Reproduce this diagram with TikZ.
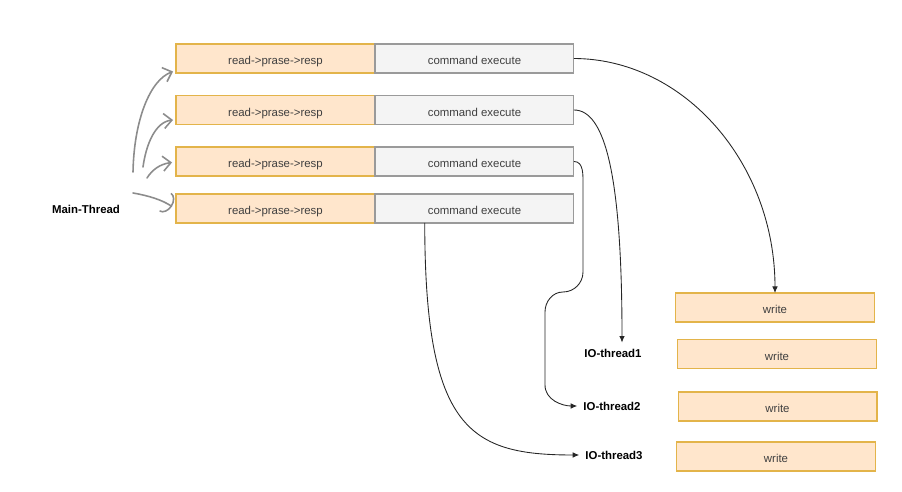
\documentclass[tikz,border=0pt]{standalone}
\usepackage{fontspec}
\setmainfont{Liberation Sans}
\usetikzlibrary{arrows.meta, positioning, calc}
\definecolor{rpfill}{HTML}{FFE6CC}
\definecolor{rpline}{HTML}{E3B44A}
\definecolor{cefill}{HTML}{F4F4F4}
\definecolor{celine}{HTML}{9A9A9A}

\begin{document}
\begin{tikzpicture}[
        x=0.02cm, y=-0.02cm,
        font=\fontsize{6.5}{8}\selectfont,
        box/.style={
          draw,
          line width=0.6pt,
          minimum width=3.98cm,
          minimum height=0.58cm,
          inner sep=0pt,
          outer sep=0pt,
          text height=1.4ex,
          text depth=0.1ex,
          text=black!75
        },
        rp/.style={box, fill=rpfill, draw=rpline},
        ce/.style={box, fill=cefill, draw=celine},
        lbl/.style={font=\fontsize{6.5}{8}\selectfont\bfseries},
        flow/.style={-{Latex[length=1.3mm, width=1.1mm]}, line width=0.5pt, draw=black!85},
        hand/.style={-{Straight Barb[length=1.6mm, width=3mm]}, line width=0.9pt, draw=black!45, line cap=round}
      ]
      \useasboundingbox (0,0) rectangle (902,492);

      \node[rp] (rp1) at (275.5,58.5) {read->prase->resp};
      \node[ce, right=0pt of rp1] (ce1) {command execute};

      \node[rp] (rp2) at (275.5,110) {read->prase->resp};
      \node[ce, right=0pt of rp2] (ce2) {command execute};

      \node[rp] (rp3) at (275.5,161.5) {read->prase->resp};
      \node[ce, right=0pt of rp3] (ce3) {command execute};

      \node[rp] (rp4) at (275.5,208.5) {read->prase->resp};
      \node[ce, right=0pt of rp4] (ce4) {command execute};

      \node[rp] (wr1) at (775,307.5) {write};
      \node[rp] (wr2) at (777,354) {write};
      \node[rp] (wr3) at (777.5,406.5) {write};
      \node[rp] (wr4) at (776,456.5) {write};

      \node[lbl] (main) at (86,209) {Main-Thread};
      \node[lbl] (io1) at (613,353) {IO-thread1};
      \node[lbl] (io2) at (612,406) {IO-thread2};
      \node[lbl] (io3) at (614,455) {IO-thread3};

      % hand drawn arrows from the main thread
      \coordinate (h1) at (133,172);
      \coordinate (h2) at (143,167);
      \coordinate (h3) at (147,178);
      \coordinate (h4) at (133,193);
      \draw[hand] (h1) .. controls (134,120) and (150,80) .. ($(rp1.west)+(-3,13)$);
      \draw[hand] (h2) .. controls (146,145) and (155,122) .. ($(rp2.west)+(-3,10)$);
      \draw[hand] (h3) .. controls (152,170) and (160,164) .. ($(rp3.west)+(-4,1)$);
      \draw[hand, -{Arc Barb[length=1.6mm, width=4.5mm]}] (h4) .. controls (150,196) and (162,200) .. ($(rp4.west)+(-4,-2)$);

      % connectors
      \draw[flow] (ce1.east) .. controls (685,59) and (775,164) .. (wr1.north);
      \draw[flow] (ce2.east) .. controls (605,110) and (622,175) .. ($(io1.north)+(9,0)$);
      \draw[flow] (ce3.east) to[out=0, in=90] (583,185) -- (583,272) to[out=-90, in=0] (563,292)
        to[out=180, in=90] (545,312) -- (545,385) to[out=-90, in=180] (io2.west);
      \draw[flow] ($(ce4.south west)!0.25!(ce4.south east)$) .. controls (425,430) and (470,455) .. (io3.west);
    \end{tikzpicture}
\end{document}
